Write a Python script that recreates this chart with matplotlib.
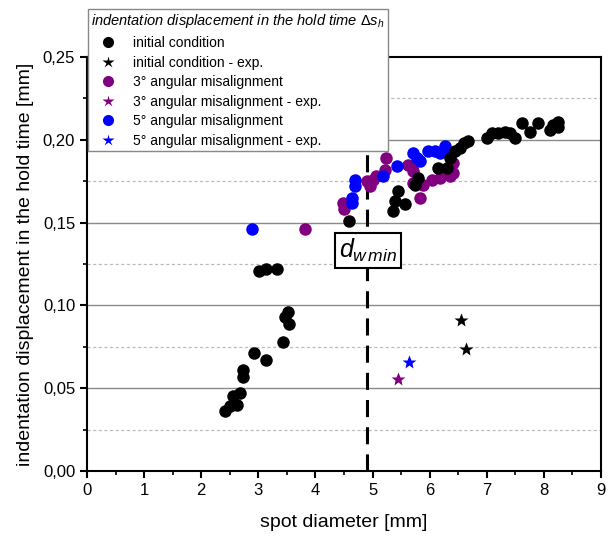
import numpy as np
import matplotlib
matplotlib.use('Agg')
import matplotlib.pyplot as plt
from matplotlib.lines import Line2D
from matplotlib.ticker import MultipleLocator, FuncFormatter

plt.rcParams['font.family'] = ['Liberation Sans', 'DejaVu Sans']
plt.rcParams['mathtext.fontset'] = 'custom'
plt.rcParams['mathtext.it'] = 'Liberation Sans:italic'
plt.rcParams['mathtext.rm'] = 'Liberation Sans'

# initial condition (simulation)
init_x = [2.42, 2.50, 2.56, 2.63, 2.68, 2.73, 2.73, 2.93, 3.13, 3.44, 3.47, 3.52, 3.54,
          3.01, 3.13, 3.33, 4.59, 5.36, 5.39, 5.45, 5.57, 5.74, 5.80, 6.15, 6.30, 6.36,
          6.45, 6.53, 6.60, 6.68, 7.00, 7.09, 7.20, 7.32, 7.41, 7.50, 7.62, 7.76, 7.90,
          8.11, 8.16, 8.25, 8.25]
init_y = [0.036, 0.039, 0.045, 0.040, 0.047, 0.057, 0.061, 0.071, 0.067, 0.078, 0.093, 0.096, 0.089,
          0.121, 0.122, 0.122, 0.151, 0.157, 0.163, 0.169, 0.161, 0.173, 0.177, 0.183, 0.183, 0.189,
          0.193, 0.195, 0.198, 0.199, 0.201, 0.204, 0.204, 0.205, 0.204, 0.201, 0.210, 0.205, 0.210,
          0.206, 0.209, 0.211, 0.208]
init_exp_x = [6.55, 6.64]
init_exp_y = [0.091, 0.0735]

# 3 deg angular misalignment
mis3_x = [3.82, 4.48, 4.50, 4.90, 4.96, 5.01, 5.06, 5.22, 5.24, 5.62, 5.69, 5.71, 5.71,
          5.83, 5.88, 6.04, 6.18, 6.36, 6.41, 6.41]
mis3_y = [0.146, 0.162, 0.158, 0.175, 0.172, 0.176, 0.178, 0.182, 0.189, 0.185, 0.184, 0.181, 0.174,
          0.165, 0.173, 0.176, 0.177, 0.178, 0.180, 0.186]
mis3_exp_x = [5.45]
mis3_exp_y = [0.0554]

# 5 deg angular misalignment
mis5_x = [2.89, 4.64, 4.64, 4.69, 4.69, 5.18, 5.43, 5.71, 5.78, 5.83, 5.97, 6.09, 6.18, 6.27, 6.30]
mis5_y = [0.146, 0.162, 0.165, 0.172, 0.176, 0.178, 0.184, 0.192, 0.189, 0.187, 0.193, 0.193, 0.192, 0.196, 0.193]
mis5_exp_x = [5.64]
mis5_exp_y = [0.0657]

d_wmin = 4.9

fig = plt.figure(figsize=(6.11, 5.39), dpi=100)
ax = fig.add_axes([0.1424, 0.1262, 0.8412, 0.768])

ms = 9
ax.plot(mis3_x, mis3_y, 'o', color='purple', ms=ms, mec='none', zorder=3)
ax.plot(mis5_x, mis5_y, 'o', color='blue', ms=ms, mec='none', zorder=3)
ax.plot(init_x, init_y, 'o', color='black', ms=ms, mec='none', zorder=3)
ax.plot(init_exp_x, init_exp_y, '*', color='black', ms=10, mec='none', zorder=3)
ax.plot(mis3_exp_x, mis3_exp_y, '*', color='purple', ms=10, mec='none', zorder=3)
ax.plot(mis5_exp_x, mis5_exp_y, '*', color='blue', ms=10, mec='none', zorder=3)

# d_w min line
ax.axvline(d_wmin, color='black', lw=2.2, dashes=(5.6, 3.3), zorder=2)
ax.text(4.92, 0.133, r'$d_{w\,min}$', fontsize=18, ha='center', va='center', zorder=4,
        bbox=dict(boxstyle='square,pad=0.15', fc='white', ec='black', lw=1.5))

ax.set_xlim(0, 9)
ax.set_ylim(0, 0.25)
ax.xaxis.set_major_locator(MultipleLocator(1))
ax.xaxis.set_minor_locator(MultipleLocator(0.5))
ax.yaxis.set_major_locator(MultipleLocator(0.05))
ax.yaxis.set_minor_locator(MultipleLocator(0.025))
ax.yaxis.set_major_formatter(FuncFormatter(lambda v, p: f'{v:.2f}'.replace('.', ',')))

for yv in [0.05, 0.10, 0.15, 0.20]:
    ax.axhline(yv, color='#8a8a8a', lw=1.0, zorder=1)
for yv in [0.025, 0.075, 0.125, 0.175, 0.225]:
    ax.axhline(yv, color='#bbbbbb', lw=0.9, dashes=(2.5, 2), zorder=1)

for s in ax.spines.values():
    s.set_linewidth(1.5)
ax.tick_params(which='major', direction='out', length=5, width=1.5, labelsize=12)
ax.tick_params(which='minor', direction='out', length=3, width=1.2)

ax.set_xlabel('spot diameter [mm]', fontsize=14, labelpad=12)
ax.set_ylabel('indentation displacement in the hold time [mm]', fontsize=14, labelpad=6)

handles = [
    Line2D([], [], marker='o', ls='none', color='black', ms=8, mec='none'),
    Line2D([], [], marker='*', ls='none', color='black', ms=9, mec='none'),
    Line2D([], [], marker='o', ls='none', color='purple', ms=8, mec='none'),
    Line2D([], [], marker='*', ls='none', color='purple', ms=9, mec='none'),
    Line2D([], [], marker='o', ls='none', color='blue', ms=8, mec='none'),
    Line2D([], [], marker='*', ls='none', color='blue', ms=9, mec='none'),
]
labels = ['initial condition', 'initial condition - exp.', '3° angular misalignment',
          '3° angular misalignment - exp.', '5° angular misalignment', '5° angular misalignment - exp.']
leg = ax.legend(handles, labels, loc='upper left', bbox_to_anchor=(88 / 611, 1 - 9 / 539),
                bbox_transform=fig.transFigure, fontsize=10, labelspacing=0.4,
                title=r'indentation displacement in the hold time $\Delta s_h$',
                title_fontproperties={'size': 10.5, 'style': 'italic'},
                alignment='left', fancybox=False, edgecolor='#888888', framealpha=1,
                borderpad=0.25, handletextpad=0.6, handlelength=2.4, borderaxespad=0)
leg.get_frame().set_linewidth(1.0)
leg.set_zorder(5)

fig.savefig('out.png', dpi=100)
